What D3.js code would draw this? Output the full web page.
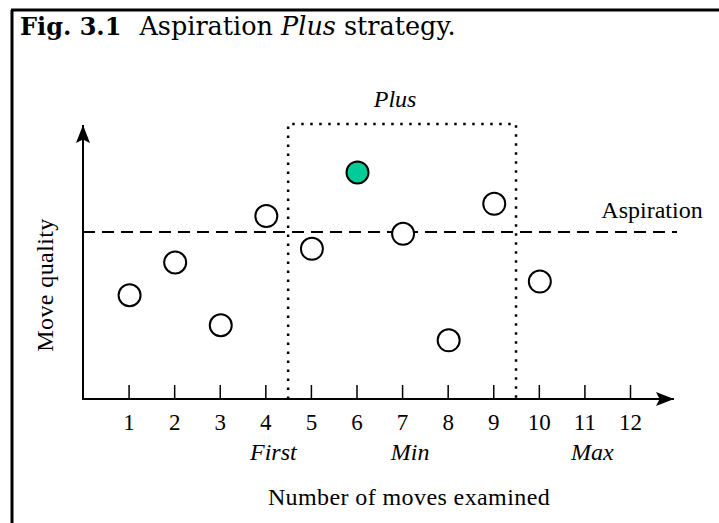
<!DOCTYPE html>
<html>
<head>
<meta charset="utf-8">
<script src="https://cdn.jsdelivr.net/npm/d3@7"></script>
<style>
  body { margin: 0; background: #fff; }
  text { font-family: "Liberation Serif", "Times New Roman", serif; fill: #000; }
</style>
</head>
<body>
<script>
// moves examined and their quality (arbitrary 0-100 units)
var moves   = [1, 2, 3, 4, 5, 6, 7, 8, 9, 10];
var quality = [38, 50, 27, 67, 55, 83, 60.5, 21.5, 71.5, 43];
var bestMove = 6;            // the one drawn filled
var aspiration = 61.2;       // dashed aspiration level
var tickLabels = ["1","2","3","4","5","6","7","8","9","10","11","12"];
var markers = [{at: 4, label: "First"}, {at: 7, label: "Min"}, {at: 11, label: "Max"}];
var plusRange = [4.5, 9.5];  // window of the Plus box
var plusTop = 100.7;

var W = 719, H = 523;
var svg = d3.select("body").append("svg")
  .attr("width", W)
  .attr("height", H);

// frame of the figure
svg.append("line").attr("x1", 11).attr("y1", 10).attr("x2", W).attr("y2", 10)
  .attr("stroke", "#000").attr("stroke-width", 3);
svg.append("line").attr("x1", 12).attr("y1", 10).attr("x2", 12).attr("y2", H)
  .attr("stroke", "#000").attr("stroke-width", 3);

// caption
var cap = svg.append("text").attr("x", 20).attr("y", 35)
  .style("font-family", "'DejaVu Serif', serif").style("font-size", "25.5px");
cap.append("tspan").style("font-weight", "bold").style("font-size", "24px").text("Fig. 3.1");
cap.append("tspan").attr("dx", 18).text("Aspiration ");
cap.append("tspan").style("font-style", "italic").text("Plus");
cap.append("tspan").text(" strategy.");

// scales
var x = d3.scaleLinear().domain([0, 12]).range([83, 630]);
var y = d3.scaleLinear().domain([0, 100]).range([399, 126]);

// arrow heads
var defs = svg.append("defs");
defs.append("marker").attr("id", "arrow")
  .attr("viewBox", "0 0 10 10").attr("refX", 10).attr("refY", 5)
  .attr("markerWidth", 18).attr("markerHeight", 14)
  .attr("preserveAspectRatio", "none")
  .attr("markerUnits", "userSpaceOnUse")
  .attr("orient", "auto")
  .append("path").attr("d", "M0,0 L10,5 L0,10 L2,5 Z").attr("fill", "#000");

// axes lines with arrows
svg.append("line").attr("x1", x(0) - 1).attr("y1", y(0)).attr("x2", 674).attr("y2", y(0))
  .attr("stroke", "#000").attr("stroke-width", 2).attr("marker-end", "url(#arrow)");
svg.append("line").attr("x1", x(0)).attr("y1", y(0)).attr("x2", x(0)).attr("y2", 125)
  .attr("stroke", "#000").attr("stroke-width", 2).attr("marker-end", "url(#arrow)");

// x ticks pointing up
var xAxis = d3.axisBottom(x)
  .tickValues(d3.range(1, 13))
  .tickFormat(function(d, i) { return tickLabels[i]; })
  .tickSizeInner(-14).tickSizeOuter(0);
var gx = svg.append("g").attr("transform", "translate(0," + y(0) + ")").call(xAxis);
gx.select(".domain").remove();
gx.selectAll(".tick line").attr("stroke", "#000").attr("stroke-width", 1.5);
gx.selectAll(".tick text")
  .style("font-family", "'Liberation Serif', serif").style("font-size", "23px")
  .attr("fill", "#000").attr("dy", 0).attr("y", 31);

// First / Min / Max
svg.selectAll(".marker").data(markers).enter().append("text")
  .attr("class", "marker")
  .attr("x", function(d) { return x(d.at) + 8; })
  .attr("y", 460)
  .attr("text-anchor", "middle")
  .style("font-size", "24px").style("font-style", "italic")
  .text(function(d) { return d.label; });

// Plus window (dotted)
svg.append("path")
  .attr("d", "M" + x(plusRange[0]) + "," + y(0) + "V" + y(plusTop) + "H" + x(plusRange[1]) + "V" + y(0))
  .attr("fill", "none").attr("stroke", "#000").attr("stroke-width", 2.5)
  .attr("stroke-dasharray", "2.5,6.5");
svg.append("text").attr("x", d3.mean(plusRange.map(x)) - 7).attr("y", 107)
  .attr("text-anchor", "middle").style("font-size", "24px").style("font-style", "italic")
  .text("Plus");

// aspiration level
svg.append("line").attr("x1", x(0)).attr("x2", 677)
  .attr("y1", y(aspiration)).attr("y2", y(aspiration))
  .attr("stroke", "#000").attr("stroke-width", 2).attr("stroke-dasharray", "12,7");
svg.append("text").attr("x", 652).attr("y", 218).attr("text-anchor", "middle")
  .style("font-size", "24px").text("Aspiration");

// move points
svg.selectAll(".pt").data(moves).enter().append("circle")
  .attr("class", "pt")
  .attr("cx", function(d) { return x(d) + 1; })
  .attr("cy", function(d, i) { return y(quality[i]); })
  .attr("r", 11)
  .attr("fill", function(d) { return d == bestMove ? "#00cc99" : "#fff"; })
  .attr("stroke", "#000").attr("stroke-width", 2);

// axis titles
svg.append("text").attr("transform", "translate(53,285) rotate(-90)")
  .attr("text-anchor", "middle").style("font-size", "24px").style("letter-spacing", "0.4px")
  .text("Move quality");
svg.append("text").attr("x", 409).attr("y", 505).attr("text-anchor", "middle")
  .style("font-size", "24px").style("letter-spacing", "0.4px")
  .text("Number of moves examined");
</script>
</body>
</html>
